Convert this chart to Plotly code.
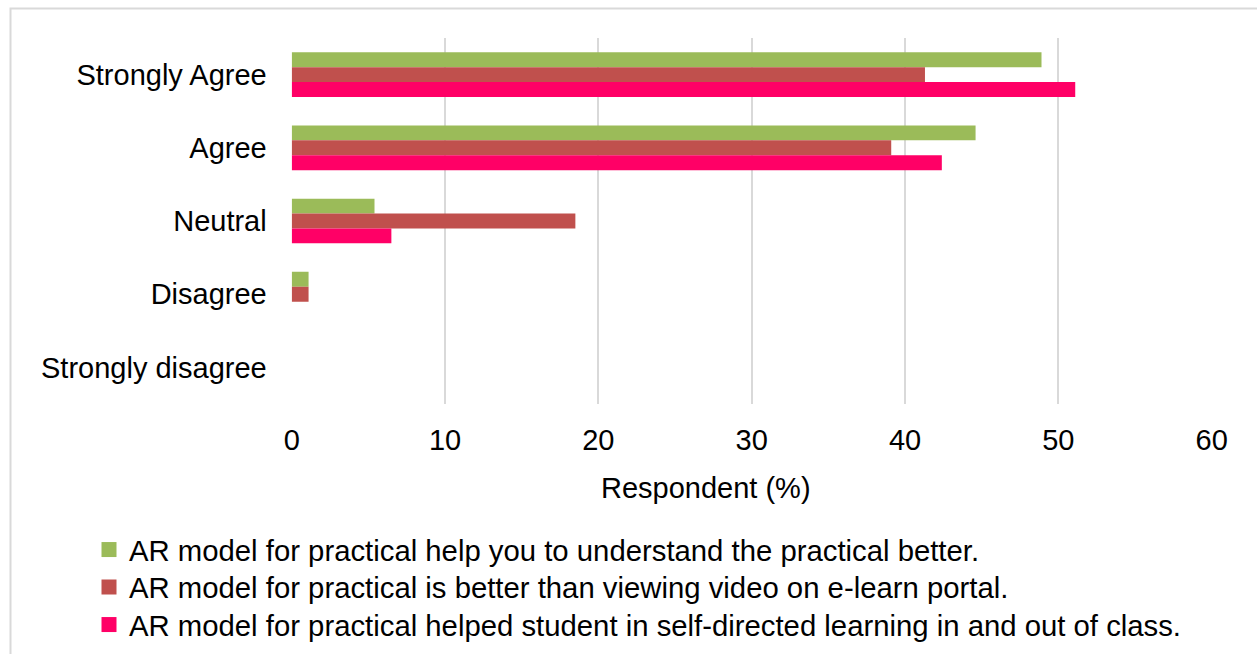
import plotly.graph_objects as go

categories = ["Strongly Agree", "Agree", "Neutral", "Disagree", "Strongly disagree"]
series_names = [
    "AR model for practical help you to understand the practical better.",
    "AR model for practical is better than viewing video on e-learn portal.",
    "AR model for practical helped student in self-directed learning in and out of class.",
]
understand_better = [48.9, 44.6, 5.4, 1.1, 0]
better_than_video = [41.3, 39.1, 18.5, 1.1, 0]
self_directed = [51.1, 42.4, 6.5, 0, 0]
x_ticks = [0, 10, 20, 30, 40, 50, 60]

colors = ["#9BBB59", "#C0504D", "#FF0066"]
series_values = [understand_better, better_than_video, self_directed]

W, H = 1257, 654
FONT = "Liberation Sans, Arial, sans-serif"
FS = 29
LFS = 29.3

legend_keys = ["legend", "legend2", "legend3"]
legend_centers = [550, 587.5, 625]

fig = go.Figure()
for name, vals, col, lk in zip(series_names, series_values, colors, legend_keys):
    fig.add_trace(go.Bar(
        y=categories, x=vals, name=name, orientation="h",
        marker=dict(color=col, line=dict(width=0)),
        showlegend=False, legendgroup=name,
    ))
    # legend-only entry with a larger square swatch
    fig.add_trace(go.Scatter(
        x=[None], y=[None], mode="markers", name=name,
        marker=dict(symbol="square", size=15, color=col, line=dict(width=0)),
        legend=lk, legendgroup=name, showlegend=True,
    ))

px0, px1 = 291.7, 1211.7
py0, py1 = 38, 404

legends = {}
for lk, cy in zip(legend_keys, legend_centers):
    legends[lk] = dict(
        x=89 / W, y=1 - cy / H, xanchor="left", yanchor="middle",
        font=dict(size=LFS, family=FONT, color="#000000"),
        bgcolor="rgba(0,0,0,0)", itemwidth=30, itemsizing="trace",
    )

fig.update_layout(
    width=W, height=H,
    margin=dict(l=0, r=0, t=0, b=0, autoexpand=False),
    paper_bgcolor="white", plot_bgcolor="white",
    barmode="group", bargap=0.39, bargroupgap=0,
    font=dict(family=FONT, size=FS, color="#000000"),
    showlegend=True,
    xaxis=dict(
        domain=[px0 / W, px1 / W], range=[0, 60], tickvals=x_ticks,
        showgrid=True, gridcolor="#D9D9D9", gridwidth=1.5,
        zeroline=False, showline=False, ticks="",
        ticklabelstandoff=16, automargin=False,
        tickfont=dict(size=FS, family=FONT),
    ),
    yaxis=dict(
        domain=[1 - py1 / H, 1 - py0 / H], autorange="reversed",
        categoryorder="array", categoryarray=categories,
        showgrid=False, zeroline=False, showline=False, ticks="",
        ticklabelstandoff=24, automargin=False,
        tickfont=dict(size=FS, family=FONT),
    ),
    annotations=[dict(
        text="Respondent (%)", x=706 / W, y=1 - 488 / H, xref="paper", yref="paper",
        showarrow=False, xanchor="center", yanchor="middle",
        font=dict(size=FS, family=FONT),
    )],
    shapes=[dict(
        type="rect", xref="paper", yref="paper",
        x0=10.5 / W, x1=1.02, y0=-0.02, y1=1 - 8.5 / H,
        line=dict(color="#D9D9D9", width=2), fillcolor="rgba(0,0,0,0)", layer="below",
    )],
    **legends,
)

fig.write_html(
    "out.html",
    config={"displayModeBar": False},
    post_script="document.body.style.margin='0';document.body.style.overflow='hidden';",
)
